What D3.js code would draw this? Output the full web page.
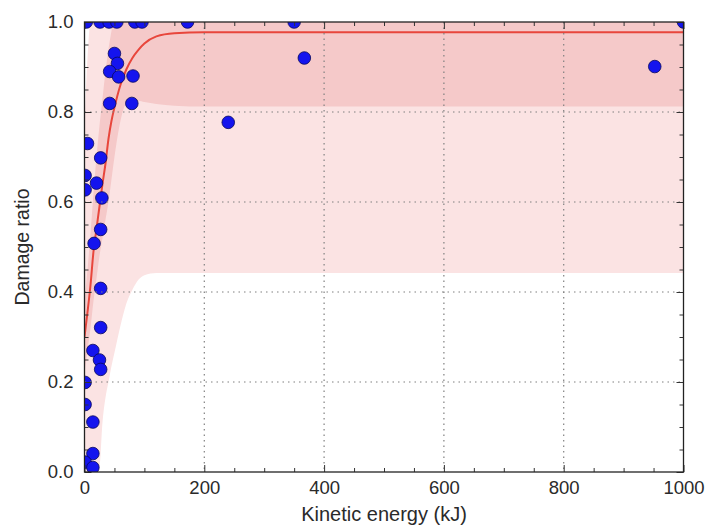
<!DOCTYPE html>
<html>
<head>
<meta charset="utf-8">
<script src="https://cdn.jsdelivr.net/npm/d3@7"></script>
<style>
  body { margin: 0; background: #fff; }
  svg { display: block; }
  text { font-family: "Liberation Sans", Arial, sans-serif; }
</style>
</head>
<body>
<svg id="chart" width="709" height="528"></svg>
<script>
// ---- data ----
const xTicks = [0, 200, 400, 600, 800, 1000];
const yTicks = [0.0, 0.2, 0.4, 0.6, 0.8, 1.0];

// observed points: kinetic energy (kJ) and damage ratio
const energy = [3, 26, 41, 54, 84, 96, 172, 350, 1000,
  50, 55, 42, 57, 81, 42, 79,
  5, 27, 1, 20, 1, 29, 27, 16, 27, 27, 14, 25, 27, 1, 1, 14, 14, 1, 14,
  240, 367, 952];
const damage = [1, 1, 1, 1, 1, 1, 1, 1, 1,
  0.93, 0.908, 0.89, 0.878, 0.88, 0.819, 0.819,
  0.73, 0.698, 0.659, 0.642, 0.627, 0.609, 0.539, 0.508, 0.408, 0.321, 0.27, 0.249, 0.228, 0.199, 0.15, 0.111, 0.041, 0.022, 0.01,
  0.777, 0.92, 0.901];

// fitted curve and uncertainty bands, sampled along energy
const bandX     = [0, 5, 10, 15, 20, 25, 30, 35, 40, 45, 50, 60, 70, 80, 90, 100, 120, 150, 200, 1000];
const fitCurve  = [0.30, 0.355, 0.415, 0.49, 0.54, 0.59, 0.64, 0.685, 0.74, 0.78, 0.81, 0.86, 0.895, 0.92, 0.938, 0.952, 0.968, 0.975, 0.977, 0.977];
const innerLow  = [0.22, 0.27, 0.32, 0.38, 0.43, 0.48, 0.52, 0.56, 0.60, 0.65, 0.70, 0.78, 0.82, 0.825, 0.825, 0.822, 0.818, 0.814, 0.812, 0.812];
const innerHigh = [0.38, 0.45, 0.53, 0.62, 0.70, 0.77, 0.83, 0.89, 0.94, 0.98, 1.02, 1.07, 1.10, 1.12, 1.13, 1.14, 1.14, 1.14, 1.14, 1.14];
const outerLow  = [-0.3, -0.2, -0.12, -0.06, -0.01, 0.01, 0.11, 0.165, 0.20, 0.235, 0.265, 0.325, 0.375, 0.405, 0.427, 0.437, 0.442, 0.442, 0.442, 0.442];
const outerHigh = [0.78, 0.92, 1.02, 1.1, 1.15, 1.2, 1.2, 1.2, 1.2, 1.2, 1.2, 1.2, 1.2, 1.2, 1.2, 1.2, 1.2, 1.2, 1.2, 1.2];

// ---- layout ----
const svg = d3.select("#chart");
const L = 84.5, R = 683.5, T = 22, B = 472;
const x = d3.scaleLinear().domain([0, 1000]).range([L, R]);
const y = d3.scaleLinear().domain([0, 1]).range([B, T]);

svg.append("defs").append("clipPath").attr("id", "plotclip")
  .append("rect").attr("x", L).attr("y", T).attr("width", R - L).attr("height", B - T);

const plot = svg.append("g").attr("clip-path", "url(#plotclip)");

// bands
const idx = d3.range(bandX.length);
const outerArea = d3.area().x(i => x(bandX[i])).y0(i => y(outerLow[i])).y1(i => y(outerHigh[i])).curve(d3.curveMonotoneX);
const innerArea = d3.area().x(i => x(bandX[i])).y0(i => y(innerLow[i])).y1(i => y(innerHigh[i])).curve(d3.curveMonotoneX);
plot.append("path").attr("d", outerArea(idx)).attr("fill", "#fbe3e3");
plot.append("path").attr("d", innerArea(idx)).attr("fill", "#f5c9c9");

// grid
const grid = svg.append("g");
xTicks.filter(v => v > 0 && v < 1000).forEach(v => {
  grid.append("line").attr("x1", x(v)).attr("x2", x(v)).attr("y1", T).attr("y2", B)
    .attr("stroke", "#808080").attr("stroke-width", 1.2).attr("stroke-dasharray", "1.5,4");
});
yTicks.filter(v => v > 0 && v < 1).forEach(v => {
  grid.append("line").attr("x1", L).attr("x2", R).attr("y1", y(v)).attr("y2", y(v))
    .attr("stroke", "#808080").attr("stroke-width", 1.2).attr("stroke-dasharray", "1.5,4");
});

// fitted curve
const line = d3.line().x(i => x(bandX[i])).y(i => y(fitCurve[i])).curve(d3.curveMonotoneX);
plot.append("path").attr("d", line(idx)).attr("fill", "none")
  .attr("stroke", "#e8463c").attr("stroke-width", 2);

// points
plot.selectAll("circle.pt").data(d3.range(energy.length)).join("circle")
  .attr("class", "pt")
  .attr("cx", i => x(energy[i])).attr("cy", i => y(damage[i])).attr("r", 6.3)
  .attr("fill", "#1414ee").attr("stroke", "#0a0a5a").attr("stroke-width", 0.8);

// axes (inward ticks, all four sides)
const xMinor = d3.range(0, 1001, 50).filter(v => v % 200 !== 0);
const yMinor = d3.range(0, 21).map(v => v * 0.05).filter(v => Math.round(v * 100) % 20 !== 0);

function styleAxis(g) {
  g.select(".domain").remove();
  g.selectAll(".tick line").attr("stroke", "#333");
  g.selectAll(".tick text").attr("fill", "#2a2a2a").style("font-size", "18.5px");
}

svg.append("g").attr("transform", `translate(0,${B})`)
  .call(d3.axisBottom(x).tickValues(xTicks).tickFormat(d3.format("d")).tickSize(-7).tickPadding(9))
  .call(styleAxis);
svg.append("g").attr("transform", `translate(0,${B})`)
  .call(d3.axisBottom(x).tickValues(xMinor).tickFormat("").tickSize(-4))
  .call(styleAxis);
svg.append("g").attr("transform", `translate(0,${T})`)
  .call(d3.axisTop(x).tickValues(xTicks).tickFormat("").tickSize(-7))
  .call(styleAxis);
svg.append("g").attr("transform", `translate(0,${T})`)
  .call(d3.axisTop(x).tickValues(xMinor).tickFormat("").tickSize(-4))
  .call(styleAxis);

svg.append("g").attr("transform", `translate(${L},0)`)
  .call(d3.axisLeft(y).tickValues(yTicks).tickFormat(d3.format(".1f")).tickSize(-7).tickPadding(11))
  .call(styleAxis);
svg.append("g").attr("transform", `translate(${L},0)`)
  .call(d3.axisLeft(y).tickValues(yMinor).tickFormat("").tickSize(-4))
  .call(styleAxis);
svg.append("g").attr("transform", `translate(${R},0)`)
  .call(d3.axisRight(y).tickValues(yTicks).tickFormat("").tickSize(-7))
  .call(styleAxis);
svg.append("g").attr("transform", `translate(${R},0)`)
  .call(d3.axisRight(y).tickValues(yMinor).tickFormat("").tickSize(-4))
  .call(styleAxis);

// frame
svg.append("rect").attr("x", L).attr("y", T).attr("width", R - L).attr("height", B - T)
  .attr("fill", "none").attr("stroke", "#222").attr("stroke-width", 1.3);

// axis titles
svg.append("text").attr("x", (L + R) / 2).attr("y", 521).attr("text-anchor", "middle")
  .attr("fill", "#2a2a2a").style("font-size", "20px").text("Kinetic energy (kJ)");
svg.append("text").attr("transform", `translate(29,${(T + B) / 2}) rotate(-90)`).attr("text-anchor", "middle")
  .attr("fill", "#2a2a2a").style("font-size", "19.5px").text("Damage ratio");
</script>
</body>
</html>
